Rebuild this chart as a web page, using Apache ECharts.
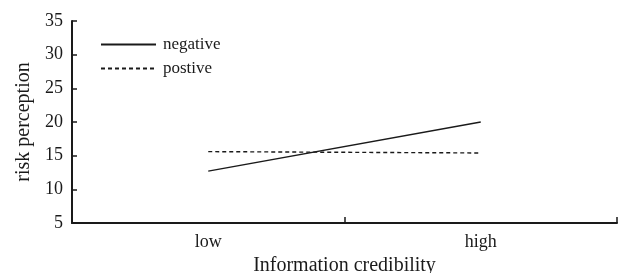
<!DOCTYPE html>
<html lang="en">
<head>
    <meta charset="UTF-8">
    <title>risk perception</title>
    <script src="https://cdn.jsdelivr.net/npm/echarts@6/dist/echarts.min.js"></script>
</head>
<style>
    html, body { margin: 0; padding: 0; background: #fff; }
    #chart { width: 620px; height: 273px; }
</style>
<body>
<div id="chart"></div>
<script type="text/javascript">
    var categories = ['low', 'high'];
    var negativeValues = [12.7, 20.0];
    var positiveValues = [15.6, 15.4];
    var yTicks = { min: 5, max: 35, interval: 5 };

    var serif = '"Liberation Serif", "Times New Roman", serif';
    var ink = '#1a1a1a';
    var chart = echarts.init(document.getElementById('chart'));

    var option = {
        animation: false,
        textStyle: { fontFamily: serif, color: ink },
        grid: { left: 72, right: 3, top: 21, bottom: 50, outerBoundsMode: 'none', containLabel: false },
        legend: {
            orient: 'vertical',
            left: 100,
            top: 36,
            padding: 0,
            itemWidth: 55,
            itemHeight: 14,
            itemGap: 7,
            itemStyle: { opacity: 0 },
            textStyle: { fontFamily: serif, fontSize: 17, color: ink, padding: [0, 0, 0, 2] },
            data: ['negative', 'postive']
        },
        xAxis: {
            type: 'category',
            data: categories,
            boundaryGap: true,
            name: 'Information credibility',
            nameLocation: 'middle',
            nameGap: 31,
            nameTextStyle: { fontFamily: serif, fontSize: 20, color: ink },
            axisLine: { lineStyle: { color: ink, width: 2 } },
            axisTick: { show: true, interval: 0, inside: true, length: 6, lineStyle: { color: ink, width: 1.5 } },
            axisLabel: { fontFamily: serif, fontSize: 18, color: ink, margin: 10 }
        },
        yAxis: {
            type: 'value',
            min: yTicks.min,
            max: yTicks.max,
            interval: yTicks.interval,
            name: 'risk perception',
            nameLocation: 'middle',
            nameGap: 38,
            nameTextStyle: { fontFamily: serif, fontSize: 20, color: ink },
            axisLine: { show: true, lineStyle: { color: ink, width: 2 } },
            axisTick: { show: true, inside: true, length: 5, lineStyle: { color: ink, width: 1.5 } },
            axisLabel: { fontFamily: serif, fontSize: 18, color: ink, margin: 9 },
            splitLine: { show: false }
        },
        series: [
            {
                name: 'negative',
                type: 'line',
                data: negativeValues,
                symbol: 'none',
                lineStyle: { color: ink, width: 1.4, type: 'solid' },
                itemStyle: { color: ink }
            },
            {
                name: 'postive',
                type: 'line',
                data: positiveValues,
                symbol: 'none',
                lineStyle: { color: ink, width: 1.4, type: [4, 3] },
                itemStyle: { color: ink }
            }
        ]
    };
    chart.setOption(option);
</script>
</body>
</html>
